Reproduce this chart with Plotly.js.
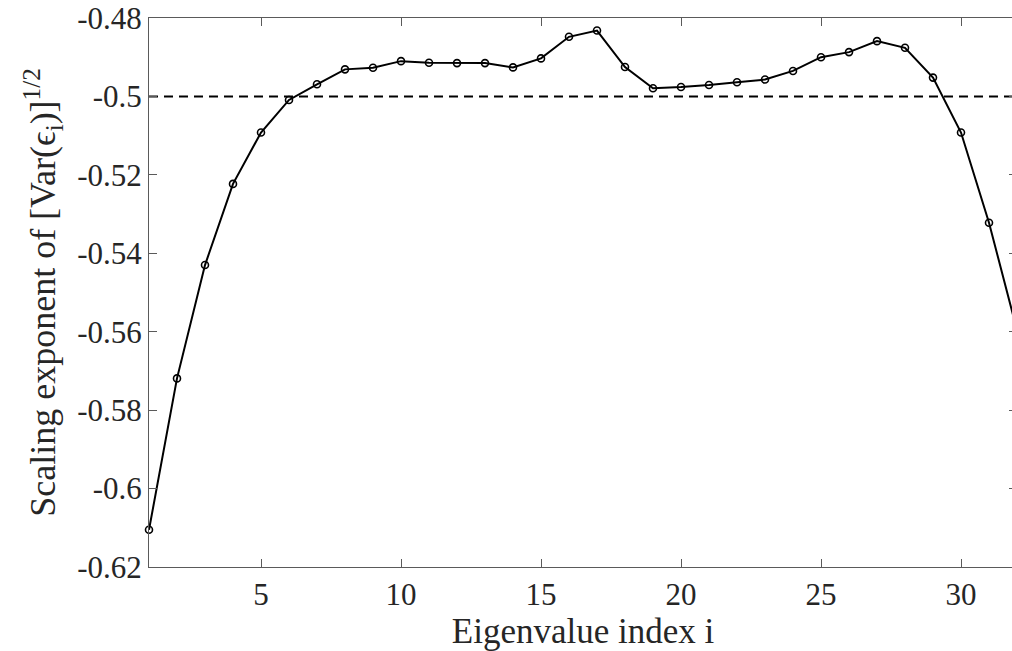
<!DOCTYPE html>
<html>
<head>
<meta charset="utf-8">
<script src="https://cdn.plot.ly/plotly-3.0.1.min.js"></script>
<style>
  html, body { margin: 0; padding: 0; overflow: hidden; background: #fff; }
  #chart { width: 1018px; height: 651px; }
</style>
</head>
<body>
<div id="chart"></div>
<script>
// Eigenvalue index
const eigIndex = [1,2,3,4,5,6,7,8,9,10,11,12,13,14,15,16,17,18,19,20,21,22,23,24,25,26,27,28,29,30,31,32];
// Scaling exponent of [Var(eps_i)]^(1/2)
const scalingExp = [-0.6105,-0.5719,-0.5430,-0.5223,-0.5092,-0.5009,-0.4969,-0.4931,-0.4927,-0.4910,
                    -0.4914,-0.4915,-0.4915,-0.4926,-0.4903,-0.4848,-0.4832,-0.4925,-0.4979,-0.4976,
                    -0.4971,-0.4964,-0.4957,-0.4935,-0.4900,-0.4887,-0.4859,-0.4876,-0.4952,-0.5092,
                    -0.5322,-0.5596];
// Reference level
const refX = [1, 32];
const refY = [-0.5, -0.5];
// Tick labels
const yTickVals = [-0.62,-0.6,-0.58,-0.56,-0.54,-0.52,-0.5,-0.48];
const yTickText = ["-0.62","-0.6","-0.58","-0.56","-0.54","-0.52","-0.5","-0.48"];
const xTickVals = [5,10,15,20,25,30];
const xTickText = ["5","10","15","20","25","30"];

const axisColor = '#5a5a5a';
const textColor = '#262626';
const fontFam = '"Liberation Serif", "Times New Roman", serif';

const traces = [
  {
    x: refX, y: refY, type: 'scatter', mode: 'lines',
    line: {color: '#000', width: 2, dash: '9px,6px'},
    hoverinfo: 'skip', showlegend: false
  },
  {
    x: eigIndex, y: scalingExp, type: 'scatter', mode: 'lines+markers',
    line: {color: '#000', width: 2},
    marker: {symbol: 'circle-open', size: 7, color: '#000', line: {width: 1.6, color: '#000'}},
    cliponaxis: false,
    showlegend: false
  }
];

const layout = {
  width: 1018, height: 651,
  margin: {l: 149, r: 1, t: 18, b: 84},
  paper_bgcolor: '#fff', plot_bgcolor: '#fff',
  font: {family: fontFam, color: textColor, size: 31},
  showlegend: false,
  xaxis: {
    range: [1, 32], tickvals: xTickVals, ticktext: xTickText,
    showgrid: false, zeroline: false,
    showline: true, linecolor: axisColor, linewidth: 1, mirror: 'ticks',
    ticks: 'inside', ticklen: 8, tickcolor: axisColor, tickwidth: 1,
    tickfont: {family: fontFam, size: 31, color: textColor},
    title: {text: 'Eigenvalue index i', font: {family: fontFam, size: 35, color: textColor}, standoff: 2}
  },
  yaxis: {
    range: [-0.62, -0.48], tickvals: yTickVals, ticktext: yTickText,
    showgrid: false, zeroline: false,
    showline: true, linecolor: axisColor, linewidth: 1, mirror: 'ticks',
    ticks: 'inside', ticklen: 8, tickcolor: axisColor, tickwidth: 1,
    tickfont: {family: fontFam, size: 31, color: textColor},
    title: {text: 'Scaling exponent of [Var(ϵ<sub>i</sub>)]<sup>1/2</sup>', font: {family: fontFam, size: 36, color: textColor}, standoff: 10}
  }
};

Plotly.newPlot('chart', traces, layout, {displayModeBar: false, staticPlot: true});
</script>
</body>
</html>
